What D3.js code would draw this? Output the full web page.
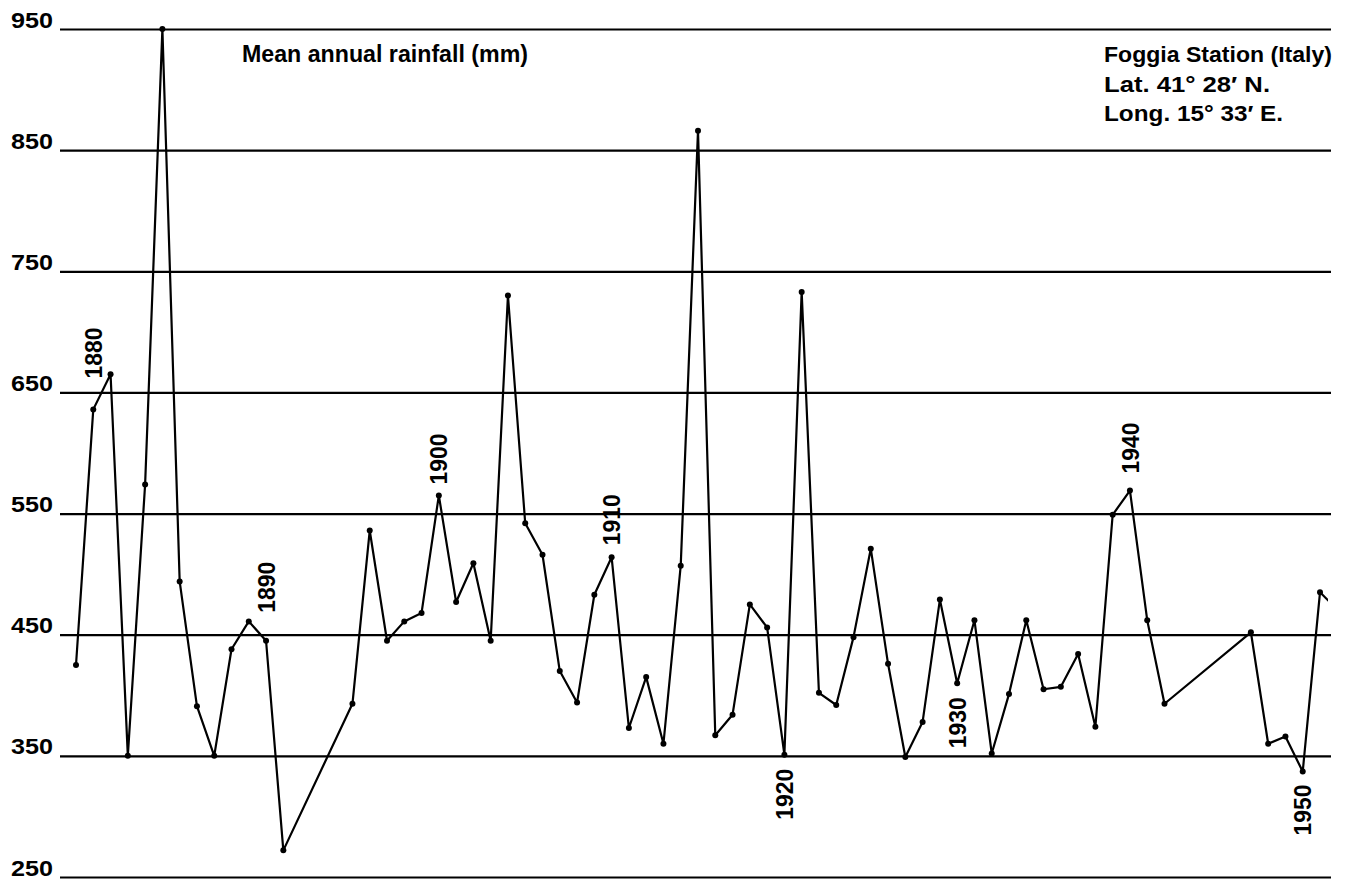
<!DOCTYPE html>
<html>
<head>
<meta charset="utf-8">
<script src="https://cdn.jsdelivr.net/npm/d3@7"></script>
<style>
  html, body { margin: 0; padding: 0; background: #fff; }
  svg { display: block; }
  text { font-family: "Liberation Sans", Arial, Helvetica, sans-serif; fill: #000; }
</style>
</head>
<body>
<svg id="chart" width="1347" height="880"></svg>
<script>
// ---- Data ----
const years = [
  1879, 1880, 1881, 1882, 1883, 1884, 1885, 1886, 1887, 1888, 1889, 1890, 1891,
  1895, 1896, 1897, 1898, 1899, 1900, 1901, 1902, 1903, 1904, 1905, 1906, 1907, 1908, 1909,
  1910, 1911, 1912, 1913, 1914, 1915, 1916, 1917, 1918, 1919,
  1920, 1921, 1922, 1923, 1924, 1925, 1926, 1927, 1928, 1929,
  1930, 1931, 1932, 1933, 1934, 1935, 1936, 1937, 1938, 1939,
  1940, 1941, 1942,
  1947, 1948, 1949, 1950, 1951, 1952
];
const rainfall = [
  425, 636, 665, 350, 574, 950, 494, 391, 350, 438, 461, 445, 272,
  393, 536, 445, 461, 468, 565, 477, 509, 445, 730, 542, 516, 420, 394, 483,
  514, 373, 415, 360, 507, 866, 367, 384, 475, 456,
  351, 733, 402, 392, 448, 521, 426, 349, 378, 479,
  410, 462, 352, 401, 462, 405, 407, 434, 374, 549,
  569, 462, 393,
  452, 360, 366, 337, 485, 471
];
const yTicks = [250, 350, 450, 550, 650, 750, 850, 950];
const decadeLabels = [1880, 1890, 1900, 1910, 1920, 1930, 1940, 1950];
const labelsBelow = [1920, 1930, 1950];
const lastMarkedYear = 1951; // 1952 only shows as the clipped start of a segment
const title = "Mean annual rainfall (mm)";
const stationLines = ["Foggia Station (Italy)", "Lat. 41° 28′ N.", "Long. 15° 33′ E."];

// ---- Layout ----
const svg = d3.select("#chart");
const gridLeft = 60, gridRight = 1331, clipRight = 1328;
const x = d3.scaleLinear().domain([1879, 1951]).range([76, 1320]);
const y = d3.scaleLinear().domain([250, 950]).range([877, 29]);

svg.append("rect").attr("width", 1347).attr("height", 880).attr("fill", "#fff");

// Gridlines + y tick labels via axis
const yAxis = d3.axisLeft(y)
  .tickValues(yTicks)
  .tickSize(-(gridRight - gridLeft))
  .tickPadding(7)
  .tickFormat(d3.format("d"));
const gAxis = svg.append("g")
  .attr("transform", `translate(${gridLeft},0)`)
  .call(yAxis);
gAxis.select(".domain").remove();
gAxis.selectAll(".tick line").attr("stroke", "#000").attr("stroke-width", 2.2);
gAxis.selectAll(".tick text")
  .attr("dy", "-0.09em")
  .attr("font-size", 22)
  .attr("font-weight", "bold")
  .attr("textLength", 42).attr("lengthAdjust", "spacingAndGlyphs")
  .style("font-family", "'Liberation Sans', Arial, sans-serif");

// Data
const data = years.map((yr, i) => ({ year: yr, value: rainfall[i] }));

svg.append("defs").append("clipPath").attr("id", "plotClip")
  .append("rect").attr("x", 0).attr("y", 0).attr("width", clipRight).attr("height", 880);

const line = d3.line().x(d => x(d.year)).y(d => y(d.value));
svg.append("path")
  .datum(data)
  .attr("clip-path", "url(#plotClip)")
  .attr("fill", "none")
  .attr("stroke", "#000")
  .attr("stroke-width", 2.2)
  .attr("stroke-linejoin", "round")
  .attr("d", line);

svg.append("g").selectAll("circle")
  .data(data.filter(d => d.year <= lastMarkedYear))
  .join("circle")
  .attr("cx", d => x(d.year))
  .attr("cy", d => y(d.value))
  .attr("r", 3)
  .attr("fill", "#000");

// Decade labels (rotated)
const labelGap = {1880: 31, 1890: 28, 1900: 11, 1910: 12, 1920: 14, 1930: 14, 1940: 17, 1950: 13};
const lookup = new Map(data.map(d => [d.year, d.value]));
svg.append("g").selectAll("text")
  .data(decadeLabels)
  .join("text")
  .attr("transform", d => {
    const below = labelsBelow.includes(d);
    const py = y(lookup.get(d));
    const ty = below ? py + labelGap[d] : py - labelGap[d];
    return `translate(${x(d)},${ty}) rotate(-90)`;
  })
  .attr("text-anchor", d => labelsBelow.includes(d) ? "end" : "start")
  .attr("dy", "0.36em")
  .attr("font-size", 24)
  .attr("font-weight", "bold")
  .attr("textLength", 51).attr("lengthAdjust", "spacingAndGlyphs")
  .text(d => d);

// Title
svg.append("text")
  .attr("x", 242).attr("y", 62)
  .attr("font-size", 23)
  .attr("font-weight", "bold")
  .attr("textLength", 286).attr("lengthAdjust", "spacingAndGlyphs")
  .text(title);

// Station block
const stationWidths = [228, 166, 179];
svg.append("g").selectAll("text")
  .data(stationLines)
  .join("text")
  .attr("x", 1104)
  .attr("y", (d, i) => 62 + i * 29.5)
  .attr("font-size", 22.5)
  .attr("font-weight", "bold")
  .attr("textLength", (d, i) => stationWidths[i]).attr("lengthAdjust", "spacingAndGlyphs")
  .text(d => d);
</script>
</body>
</html>
